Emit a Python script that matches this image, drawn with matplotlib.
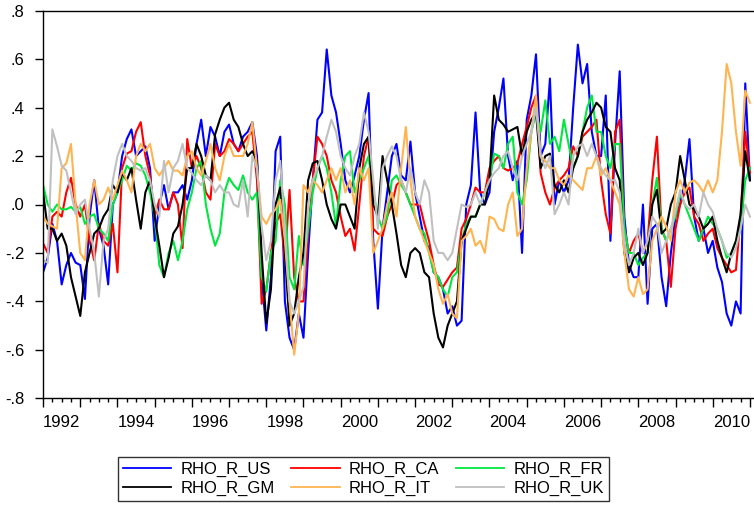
import numpy as np
import matplotlib.pyplot as plt

plt.rcParams['font.family'] = ['Liberation Sans', 'DejaVu Sans']

# ---------- Data (8 obs per year, 1992.0 .. 2011.0) ----------
START = 1992
PER_YEAR = 8

rho_us = [
    -0.28, -0.22, -0.08, -0.15, -0.33, -0.25, -0.20, -0.24,   # 1992
    -0.25, -0.39, -0.05, 0.10, -0.10, -0.17, -0.33, 0.00,     # 1993
    0.05, 0.20, 0.27, 0.31, 0.20, 0.22, 0.24, 0.15,           # 1994
    -0.15, 0.00, 0.08, -0.02, 0.05, 0.05, 0.08, 0.02,         # 1995
    0.10, 0.25, 0.35, 0.20, 0.32, 0.28, 0.20, 0.30,           # 1996
    0.33, 0.25, 0.22, 0.28, 0.30, 0.34, 0.20, -0.30,          # 1997
    -0.52, -0.30, 0.22, 0.28, -0.40, -0.55, -0.60, -0.45,     # 1998
    -0.55, -0.20, 0.10, 0.35, 0.38, 0.64, 0.45, 0.38,         # 1999
    0.25, 0.10, 0.05, 0.12, 0.20, 0.35, 0.46, -0.15,          # 2000
    -0.43, -0.10, 0.05, 0.20, 0.25, 0.12, 0.10, 0.26,         # 2001
    0.05, -0.05, -0.15, -0.18, -0.28, -0.30, -0.35, -0.45,    # 2002
    -0.42, -0.50, -0.48, 0.00, 0.08, 0.38, 0.05, 0.00,        # 2003
    0.05, 0.30, 0.40, 0.52, 0.20, 0.10, 0.18, -0.20,          # 2004
    0.35, 0.45, 0.62, 0.20, 0.25, 0.52, 0.00, 0.10,           # 2005
    0.05, 0.10, 0.40, 0.66, 0.50, 0.58, 0.30, 0.20,           # 2006
    0.20, 0.45, -0.15, 0.25, 0.55, -0.05, -0.25, -0.30,       # 2007
    -0.30, 0.00, -0.41, -0.10, -0.08, -0.30, -0.42, -0.20,    # 2008
    -0.05, 0.00, 0.10, 0.27, -0.05, -0.15, -0.10, -0.20,      # 2009
    -0.15, -0.26, -0.32, -0.45, -0.50, -0.40, -0.45, 0.50,    # 2010
    0.10,
]
rho_ca = [
    -0.16, -0.20, -0.05, -0.03, -0.05, 0.05, 0.11, 0.00,
    -0.05, 0.00, -0.15, -0.23, -0.08, -0.15, -0.17, -0.08,
    -0.28, 0.15, 0.21, 0.22, 0.30, 0.34, 0.20, 0.12,
    -0.05, 0.02, -0.02, -0.02, 0.05, 0.00, -0.18, 0.27,
    0.15, 0.20, 0.15, 0.05, 0.02, 0.25, 0.20, 0.22,
    0.27, 0.25, 0.22, 0.25, 0.28, 0.30, 0.10, -0.41,
    -0.35, -0.20, -0.08, -0.04, -0.23, 0.06, -0.30, -0.40,
    -0.40, -0.12, 0.10, 0.28, 0.25, 0.20, 0.10, 0.05,
    -0.05, -0.13, -0.10, -0.19, 0.00, 0.20, 0.28, -0.10,
    -0.12, -0.13, -0.05, 0.00, 0.08, 0.10, 0.05, 0.00,
    0.00, 0.00, -0.08, -0.15, -0.25, -0.33, -0.34, -0.31,
    -0.28, -0.26, -0.10, -0.06, 0.00, 0.07, 0.05, 0.05,
    0.15, 0.18, 0.20, 0.15, 0.14, 0.15, 0.17, 0.25,
    0.32, 0.40, 0.45, 0.13, 0.05, 0.00, 0.07, 0.10,
    0.12, 0.15, 0.24, 0.20, 0.28, 0.30, 0.32, 0.35,
    0.10, -0.04, -0.12, 0.30, 0.35, -0.10, -0.20, -0.15,
    -0.12, -0.20, -0.15, 0.10, 0.28, -0.10, -0.15, -0.34,
    -0.10, 0.00, 0.05, 0.07, -0.05, -0.08, -0.15, -0.12,
    -0.10, -0.18, -0.22, -0.25, -0.28, -0.27, -0.05, 0.30,
    0.13,
]
rho_fr = [
    0.08, 0.00, -0.03, 0.00, -0.02, -0.02, -0.01, -0.03,
    -0.01, -0.08, -0.05, -0.04, -0.10, -0.12, -0.15, 0.00,
    0.05, 0.10, 0.16, 0.14, 0.17, 0.16, 0.12, 0.05,
    -0.05, -0.25, -0.30, -0.20, -0.15, -0.23, -0.15, -0.02,
    0.05, 0.15, 0.18, 0.00, -0.10, -0.17, -0.12, 0.05,
    0.11, 0.08, 0.06, 0.12, 0.05, 0.02, 0.05, -0.30,
    -0.36, -0.20, -0.15, 0.10, 0.00, -0.30, -0.35, -0.13,
    -0.25, -0.10, 0.05, 0.15, 0.20, 0.15, 0.05, -0.09,
    0.10, 0.20, 0.22, 0.05, 0.10, 0.15, 0.20, 0.05,
    -0.05, -0.10, -0.05, 0.10, 0.12, 0.08, 0.05, 0.00,
    -0.05, -0.10, -0.12, -0.20, -0.28, -0.30, -0.35, -0.38,
    -0.30, -0.28, -0.15, -0.08, -0.05, -0.05, 0.00, 0.05,
    0.10, 0.21, 0.20, 0.15, 0.25, 0.28, 0.05, 0.00,
    0.10, 0.30, 0.38, 0.30, 0.43, 0.25, 0.28, 0.22,
    0.35, 0.25, 0.15, 0.20, 0.30, 0.40, 0.45, 0.30,
    0.30, 0.20, 0.15, 0.25, 0.25, -0.10, -0.20, -0.20,
    -0.25, -0.22, -0.20, 0.00, 0.11, -0.10, -0.15, -0.10,
    -0.05, 0.05, 0.00, -0.05, -0.10, -0.15, -0.10, -0.05,
    -0.08, -0.10, -0.15, -0.22, -0.20, -0.15, -0.10, 0.10,
    0.15,
]
rho_gm = [
    0.05, -0.10, -0.10, -0.15, -0.12, -0.17, -0.30, -0.38,
    -0.46, -0.28, -0.20, -0.12, -0.10, -0.05, -0.02, 0.08,
    0.05, 0.13, 0.10, 0.15, 0.02, -0.10, 0.05, 0.10,
    -0.05, -0.17, -0.30, -0.22, -0.12, -0.09, 0.00, 0.15,
    0.15, 0.25, 0.20, 0.12, 0.10, 0.29, 0.35, 0.40,
    0.42, 0.35, 0.32, 0.25, 0.20, 0.22, 0.18, -0.20,
    -0.49, -0.35, 0.00, 0.07, -0.20, -0.50, -0.45, -0.30,
    -0.20, 0.10, 0.17, 0.18, 0.10, 0.00, -0.06, -0.10,
    0.00, 0.00, -0.05, -0.10, 0.15, 0.25, 0.28, 0.00,
    -0.05, 0.20, 0.10, 0.00, -0.12, -0.25, -0.30, -0.20,
    -0.18, -0.20, -0.28, -0.30, -0.45, -0.55, -0.59, -0.50,
    -0.45, -0.40, -0.15, -0.10, -0.05, -0.05, 0.00, 0.00,
    0.10, 0.45, 0.35, 0.33, 0.30, 0.31, 0.32, 0.20,
    0.30, 0.35, 0.38, 0.15, 0.20, 0.21, 0.08, 0.05,
    0.10, 0.05, 0.15, 0.20, 0.30, 0.35, 0.38, 0.42,
    0.40, 0.32, 0.30, 0.15, 0.10, -0.20, -0.28, -0.22,
    -0.20, -0.25, -0.20, 0.00, 0.06, -0.12, -0.10, 0.00,
    0.05, 0.20, 0.10, 0.00, -0.02, -0.05, -0.10, -0.08,
    -0.05, -0.15, -0.22, -0.28, -0.20, -0.15, -0.04, 0.22,
    0.10,
]
rho_it = [
    -0.05, -0.08, -0.09, -0.10, 0.15, 0.17, 0.25, 0.00,
    -0.20, -0.23, 0.00, 0.10, 0.00, 0.02, 0.07, 0.02,
    0.08, 0.14, 0.10, 0.05, 0.20, 0.25, 0.22, 0.25,
    0.15, 0.12, 0.15, 0.18, 0.14, 0.14, 0.12, 0.20,
    0.22, 0.15, 0.12, 0.18, 0.25, 0.15, 0.10, 0.20,
    0.25, 0.20, 0.20, 0.20, 0.25, 0.34, 0.15, -0.05,
    -0.08, -0.04, -0.02, 0.02, -0.15, -0.40, -0.62, -0.45,
    0.08, 0.05, 0.10, 0.08, 0.05, 0.10, 0.15, 0.10,
    0.15, 0.05, 0.10, 0.00, 0.15, 0.10, 0.15, -0.20,
    -0.15, -0.10, 0.00, 0.05, -0.05, 0.15, 0.32, 0.10,
    -0.05, -0.10, -0.15, -0.20, -0.25, -0.35, -0.41, -0.37,
    -0.45, -0.47, -0.15, -0.13, -0.10, -0.17, -0.15, -0.20,
    -0.05, -0.06, -0.10, -0.11, 0.00, 0.05, -0.13, -0.10,
    0.15, 0.30, 0.45, 0.20, 0.18, 0.15, 0.15, 0.10,
    0.08, 0.12, 0.10, 0.08, 0.06, 0.15, 0.15, 0.20,
    0.12, 0.15, 0.10, 0.05, 0.00, -0.20, -0.35, -0.38,
    -0.30, -0.37, -0.35, -0.15, -0.10, -0.05, -0.09, -0.15,
    0.05, 0.10, 0.05, 0.09, 0.10, 0.08, 0.05, 0.10,
    0.05, 0.10, 0.30, 0.58, 0.50, 0.30, 0.16, 0.47,
    0.42,
]
rho_uk = [
    -0.23, -0.24, 0.31, 0.24, 0.16, 0.14, 0.05, -0.04,
    0.00, 0.02, -0.10, -0.20, -0.38, -0.15, -0.10, 0.10,
    0.20, 0.25, 0.20, 0.18, 0.15, 0.14, 0.15, 0.10,
    0.00, -0.05, 0.18, 0.05, 0.15, 0.18, 0.25, 0.15,
    0.13, 0.10, 0.08, 0.12, 0.10, 0.05, 0.08, 0.05,
    0.05, 0.00, -0.01, 0.10, -0.05, 0.20, 0.15, -0.09,
    -0.23, -0.15, 0.10, 0.18, -0.10, -0.40, -0.45, -0.40,
    -0.34, 0.00, 0.10, 0.15, 0.20, 0.28, 0.35, 0.30,
    0.20, 0.15, 0.12, 0.20, 0.25, 0.38, 0.30, 0.10,
    -0.10, 0.15, 0.20, 0.24, 0.20, 0.10, 0.05, 0.15,
    0.05, 0.00, 0.10, 0.05, -0.15, -0.20, -0.20, -0.23,
    -0.20, -0.10, 0.00, -0.01, 0.00, 0.05, 0.00, 0.05,
    0.10, 0.13, 0.15, 0.20, 0.22, 0.15, 0.10, 0.20,
    0.25, 0.30, 0.40, 0.20, 0.15, 0.20, -0.04, 0.00,
    0.05, 0.00, 0.20, 0.24, 0.25, 0.20, 0.25, 0.20,
    0.15, 0.12, 0.10, 0.10, 0.05, -0.15, -0.25, -0.20,
    -0.10, -0.20, -0.15, -0.05, -0.08, -0.20, -0.15, -0.10,
    -0.03, 0.06, 0.00, -0.02, 0.00, -0.05, 0.05, 0.00,
    -0.03, -0.10, -0.15, -0.20, -0.22, -0.18, -0.10, 0.00,
    -0.05,
]

series = [
    ("RHO_R_US", rho_us, "#0000FF"),
    ("RHO_R_CA", rho_ca, "#FF0000"),
    ("RHO_R_FR", rho_fr, "#00E840"),
    ("RHO_R_GM", rho_gm, "#000000"),
    ("RHO_R_IT", rho_it, "#FFB450"),
    ("RHO_R_UK", rho_uk, "#C0C0C0"),
]

# ---------- Plot ----------
W, H = 754, 505
fig = plt.figure(figsize=(W / 100, H / 100), dpi=100)
ax = fig.add_axes([42.7 / W, 1 - 398.3 / H, (W - 42.7) / W, (398.3 - 10.7) / H])

handles = {}
for name, vals, col in series:
    t = START + np.arange(len(vals)) / PER_YEAR
    handles[name], = ax.plot(t, vals, color=col, lw=1.5, label=name)

ax.set_xlim(1991.99, 2011.11)
ax.set_ylim(-0.8, 0.8)

yt = np.round(np.arange(-0.8, 0.81, 0.2), 1)
ax.set_yticks(yt)
ax.set_yticklabels([("-" if v < 0 else "") + f"{abs(v):.1f}"[1:] for v in yt])

years = np.arange(1992, 2012)
ax.set_xticks(years)
ax.set_xticklabels([])
ax.set_xticks(np.arange(1992, 2011.1, 0.25), minor=True)
for yr in range(1992, 2011, 2):
    ax.annotate(str(yr), xy=(yr + 0.5, 0), xycoords=("data", "axes fraction"),
                xytext=(0, -12), textcoords="offset points",
                ha="center", va="top", fontsize=12)

ax.tick_params(axis="y", direction="out", length=6, width=1, pad=7, labelsize=12)
ax.tick_params(axis="x", which="major", direction="out", length=6.5, width=1)
ax.tick_params(axis="x", which="minor", direction="out", length=3.2, width=1)
ax.spines["right"].set_visible(False)
for s in ("left", "bottom", "top"):
    ax.spines[s].set_linewidth(1)

# legend fills column-wise, so order: US, GM | CA, IT | FR, UK
order = ["RHO_R_US", "RHO_R_GM", "RHO_R_CA", "RHO_R_IT", "RHO_R_FR", "RHO_R_UK"]
leg = fig.legend([handles[n] for n in order], order,
                 loc="center", bbox_to_anchor=(363.5 / W, 1 - 479 / H), ncol=3,
                 fontsize=12, frameon=True, fancybox=False, edgecolor="black",
                 handlelength=2.9, handletextpad=0.55, columnspacing=1.0,
                 labelspacing=0.2, borderpad=0.3, borderaxespad=0)
leg.get_frame().set_linewidth(1)
for h in leg.get_lines():
    h.set_linewidth(1.3)

fig.savefig("out.png", dpi=100)
